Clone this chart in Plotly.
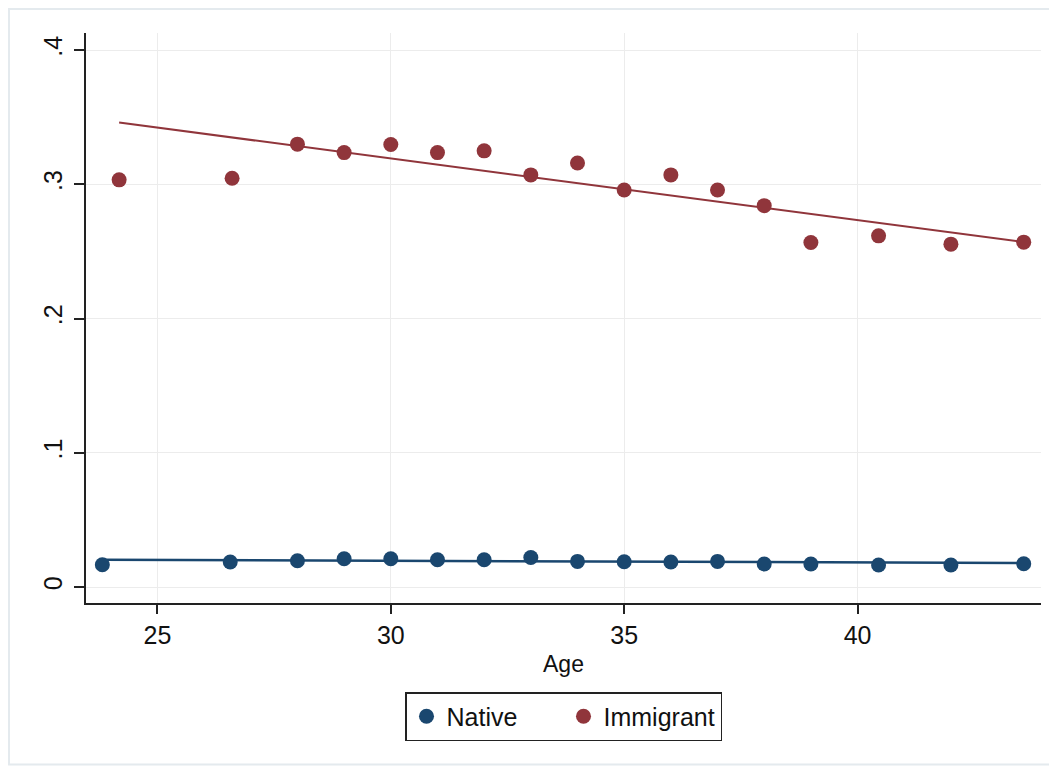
import plotly.graph_objects as go

# ---- data ----
native_age = [23.82, 26.56, 28.0, 29.0, 30.0, 31.0, 32.0, 33.0, 34.0, 35.0, 36.0, 37.0, 38.0, 39.0, 40.45, 42.0, 43.56]
native_val = [0.0166, 0.0186, 0.0196, 0.0211, 0.0211, 0.0203, 0.0203, 0.0220, 0.0191, 0.0188, 0.0186, 0.0191, 0.0171, 0.0171, 0.0164, 0.0164, 0.0173]

immig_age = [24.18, 26.60, 28.0, 29.0, 30.0, 31.0, 32.0, 33.0, 34.0, 35.0, 36.0, 37.0, 38.0, 39.0, 40.45, 42.0, 43.56]
immig_val = [0.3033, 0.3045, 0.3299, 0.3236, 0.3296, 0.3236, 0.3249, 0.3070, 0.3159, 0.2958, 0.3070, 0.2958, 0.2841, 0.2566, 0.2616, 0.2554, 0.2569]

# linear-fit lines (endpoints)
native_fit_age = [23.82, 43.56]
native_fit_val = [0.0203, 0.0179]
immig_fit_age = [24.18, 43.56]
immig_fit_val = [0.346, 0.257]

x_ticks = [25, 30, 35, 40]
y_ticks = [0, 0.1, 0.2, 0.3, 0.4]
y_tick_labels = ["0", ".1", ".2", ".3", ".4"]

NAVY = "#1a476f"
MAROON = "#90353b"
FONT = "Liberation Sans, Arial, Helvetica, sans-serif"

fig = go.Figure()

fig.add_trace(go.Scatter(x=native_fit_age, y=native_fit_val, mode="lines",
                         line=dict(color=NAVY, width=2.5), showlegend=False, hoverinfo="skip"))
fig.add_trace(go.Scatter(x=immig_fit_age, y=immig_fit_val, mode="lines",
                         line=dict(color=MAROON, width=2), showlegend=False, hoverinfo="skip"))
fig.add_trace(go.Scatter(x=native_age, y=native_val, mode="markers", name="Native",
                         marker=dict(color=NAVY, size=15, line=dict(width=0))))
fig.add_trace(go.Scatter(x=immig_age, y=immig_val, mode="markers", name="Immigrant",
                         marker=dict(color=MAROON, size=15, line=dict(width=0))))

fig.update_layout(
    width=1049, height=766,
    margin=dict(l=78, r=16, t=25, b=171, pad=0),
    paper_bgcolor="white", plot_bgcolor="white",
    font=dict(family=FONT, color="#111111", size=22),
    legend=dict(orientation="h", xanchor="center", x=0.5, yref="container", yanchor="top", y=0.107,
                bordercolor="#222222", borderwidth=1.5, bgcolor="white",
                font=dict(size=25, family=FONT, color="#111111"),
                entrywidth=112, itemsizing="trace"),
    xaxis=dict(range=[23.47, 43.93], tickvals=x_ticks, ticks="outside", ticklen=9, tickwidth=1.5,
               tickcolor="#222222", showline=True, linecolor="#222222", linewidth=1.5,
               showgrid=True, gridcolor="#ececec", gridwidth=1, zeroline=False,
               tickfont=dict(size=25), title=dict(text="Age", font=dict(size=23), standoff=8)),
    yaxis=dict(range=[-0.0119, 0.4127], tickvals=y_ticks, ticktext=y_tick_labels, tickangle=-90,
               ticks="outside", ticklen=10, tickwidth=1.5, tickcolor="#222222",
               showline=True, linecolor="#222222", linewidth=1.5,
               showgrid=True, gridcolor="#ececec", gridwidth=1, zeroline=False,
               ticklabelstandoff=2, tickfont=dict(size=25)),
    shapes=[dict(type="rect", xref="paper", yref="paper",
                 x0=-0.0806, x1=1.0094, y0=-0.2835, y1=1.042,
                 line=dict(color="#e4eaee", width=2), fillcolor="rgba(0,0,0,0)", layer="below")],
)

fig.write_html("out.html")
